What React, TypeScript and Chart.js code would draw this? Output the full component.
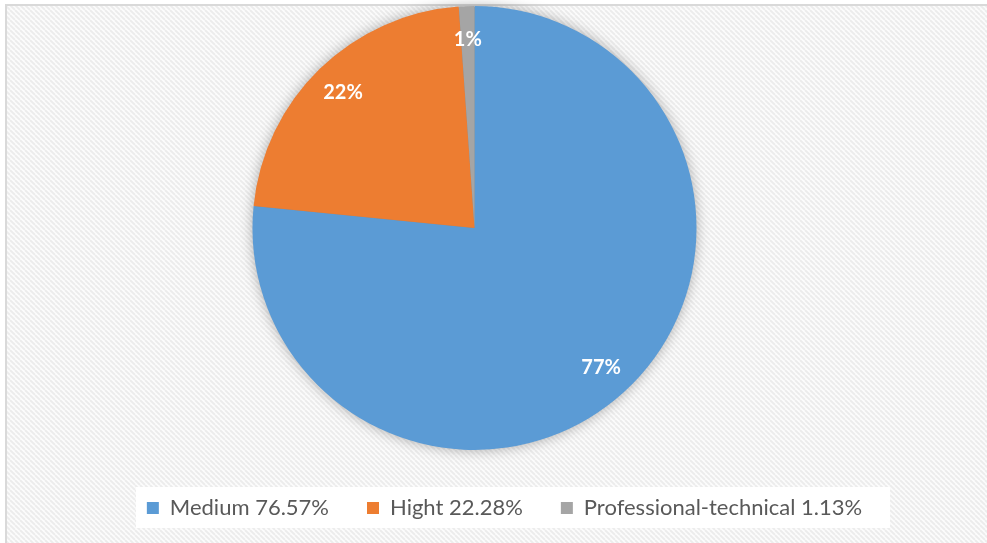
import React, { useEffect, useRef } from 'react';
import { Chart, registerables } from 'chart.js';
Chart.register(...registerables);

const categories = ['Medium', 'Hight', 'Professional-technical'];
const shares = [76.57, 22.28, 1.13];
const sliceLabels = ['77%', '22%', '1%'];
const colors = ['#5B9BD5', '#ED7D31', '#A5A5A5'];

export default function App() {
  const ref = useRef<HTMLCanvasElement>(null);
  useEffect(() => {
    const canvas = ref.current!;
    const tile = document.createElement('canvas');
    tile.width = 5;
    tile.height = 5;
    const tctx = tile.getContext('2d')!;
    tctx.fillStyle = '#fcfcfc';
    tctx.fillRect(0, 0, 5, 5);
    tctx.strokeStyle = '#ececec';
    tctx.lineWidth = 2;
    for (const off of [-5, 0, 5]) {
      tctx.beginPath();
      tctx.moveTo(off, 0);
      tctx.lineTo(off + 5, 5);
      tctx.stroke();
    }

    const bgPlugin = {
      id: 'bg',
      beforeDraw(chart: any) {
        const ctx = chart.ctx;
        ctx.save();
        ctx.fillStyle = '#ffffff';
        ctx.fillRect(0, 0, chart.width, chart.height);
        const pat = ctx.createPattern(tile, 'repeat');
        ctx.fillStyle = pat;
        ctx.fillRect(7, 6, chart.width - 7, chart.height - 6);
        ctx.strokeStyle = '#d9d9d9';
        ctx.lineWidth = 2;
        ctx.strokeRect(6, 5, chart.width + 10, chart.height + 10);
        ctx.fillStyle = '#ffffff';
        ctx.fillRect(136, 487, 754, 41);
        ctx.restore();
      },
    };

    const areaPlugin = {
      id: 'pieArea',
      afterLayout(chart: any) {
        chart.chartArea = { left: 252, right: 697, top: 6, bottom: 450, width: 445, height: 444 };
      },
    };

    const shadowPlugin = {
      id: 'pieShadow',
      beforeDatasetsDraw(chart: any) {
        const arc = chart.getDatasetMeta(0).data[0];
        if (!arc) return;
        const { x, y, outerRadius } = arc.getProps(['x', 'y', 'outerRadius'], true);
        const ctx = chart.ctx;
        ctx.save();
        ctx.shadowColor = 'rgba(0,0,0,0.35)';
        ctx.shadowBlur = 14;
        ctx.fillStyle = '#888';
        ctx.beginPath();
        ctx.arc(x, y, outerRadius - 1, 0, Math.PI * 2);
        ctx.fill();
        ctx.restore();
      },
    };

    const labelPlugin = {
      id: 'sliceLabels',
      afterDatasetsDraw(chart: any) {
        const ctx = chart.ctx;
        ctx.save();
        ctx.fillStyle = '#ffffff';
        ctx.font = 'bold 20px Lato';
        ctx.textAlign = 'center';
        ctx.textBaseline = 'middle';
        chart.getDatasetMeta(0).data.forEach((el: any, i: number) => {
          const p = el.getProps(['x', 'y', 'startAngle', 'endAngle', 'outerRadius'], true);
          const mid = (p.startAngle + p.endAngle) / 2;
          const r = p.outerRadius * 0.85;
          ctx.fillText(sliceLabels[i], p.x + Math.cos(mid) * r, p.y + Math.sin(mid) * r);
        });
        ctx.restore();
      },
    };

    const chart = new Chart(canvas, {
      type: 'pie',
      data: {
        labels: categories,
        datasets: [
          {
            data: shares,
            backgroundColor: colors,
            borderWidth: 0,
          },
        ],
      },
      options: {
        animation: false,
        responsive: false,
        layout: { padding: { left: 22, right: 0, top: 0, bottom: 14 } },
        plugins: {
          tooltip: { enabled: false },
          legend: {
            position: 'bottom',
            labels: {
              boxWidth: 12,
              boxHeight: 12,
              padding: 38,
              color: '#595959',
              font: { family: 'Lato', size: 22 },
              generateLabels: () =>
                categories.map((c, i) => ({
                  text: `${c} ${shares[i].toFixed(2)}%`,
                  fillStyle: colors[i],
                  strokeStyle: colors[i],
                  lineWidth: 0,
                  hidden: false,
                  index: i,
                  fontColor: '#595959',
                })),
            },
          },
        },
      },
      plugins: [bgPlugin, areaPlugin, shadowPlugin, labelPlugin],
    } as any);
    return () => chart.destroy();
  }, []);

  return (
    <div style={{ position: 'absolute', left: 0, top: 0, width: 987, height: 543 }}>
      <canvas ref={ref} width={987} height={543} style={{ width: 987, height: 543, display: 'block' }} />
    </div>
  );
}
